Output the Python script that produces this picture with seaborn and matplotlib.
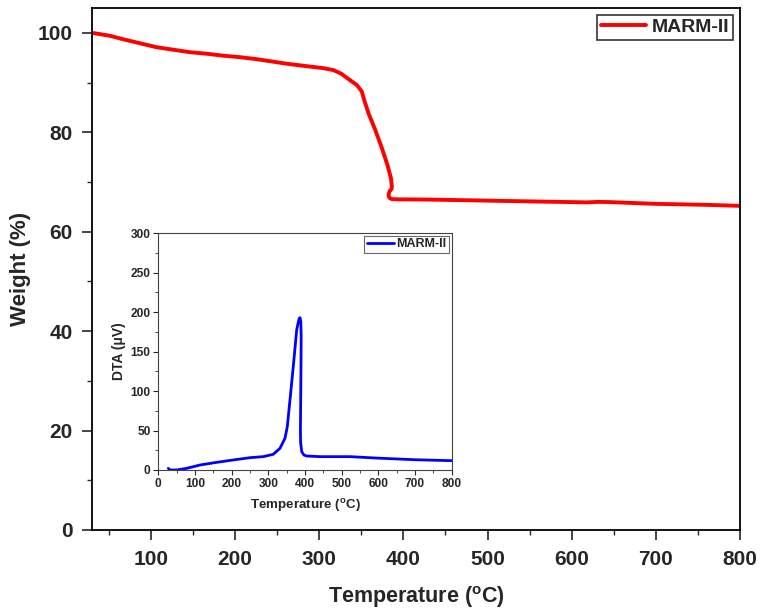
import numpy as np
import pandas as pd
import matplotlib
matplotlib.use("Agg")
import matplotlib.pyplot as plt
import seaborn as sns
from matplotlib.ticker import MultipleLocator

# TGA data (main plot)
tga_temp = [30, 51.4, 67.2, 87.0, 106.8, 126.6, 146.4, 166.2, 186, 205.8, 225.6, 245.3, 265.1,
            284.9, 304.6, 316.9, 326, 334, 344.7, 350.6, 353.4, 358.6, 366.5, 374.5, 381.1,
            385.2, 386.4, 385.5, 383.5, 382.3, 383.5, 386.4, 395, 408.1, 435, 515, 618,
            625, 632, 646, 700, 760, 800]
tga_weight = [100, 99.4, 98.7, 97.9, 97.1, 96.6, 96.1, 95.8, 95.4, 95.1, 94.7, 94.2, 93.7,
              93.3, 92.9, 92.5, 91.8, 90.8, 89.5, 88.2, 86.5, 83.8, 80.5, 76.8, 73.4,
              70.8, 68.9, 68.5, 68.1, 67.3, 66.8, 66.55, 66.5, 66.5, 66.45, 66.2, 65.9,
              65.95, 66.0, 65.95, 65.6, 65.4, 65.2]

# DTA data (inset)
dta_temp = [27.3, 31.9, 50, 77.4, 113.7, 159.2, 204.5, 250, 286.3, 313.5, 331.8, 345.4, 351.7,
            359, 368, 377.3, 382, 384.4, 386.5, 388.5, 389.5, 389, 388.2, 387.5, 388, 391,
            397, 404.6, 440.8, 522.6, 600, 700, 800]
dta_signal = [2.1, 0, 0, 2.1, 6.3, 9.7, 12.7, 15.6, 16.9, 19.9, 27.5, 40.2, 54.9,
              88.7, 131, 177.5, 188, 192.3, 193, 188, 170, 130, 88.7, 50, 35, 23.2,
              19, 17.7, 16.9, 16.9, 15, 13, 11.8]

sns.set_style("white")
plt.rcParams['font.family'] = ['Liberation Sans', 'DejaVu Sans']
plt.rcParams['font.weight'] = 'bold'
plt.rcParams['mathtext.fontset'] = 'custom'
plt.rcParams['mathtext.rm'] = 'Liberation Sans:bold'
plt.rcParams['mathtext.bf'] = 'Liberation Sans:bold'
plt.rcParams['mathtext.it'] = 'Liberation Sans:bold'

fig = plt.figure(figsize=(7.61, 6.13), dpi=100)
ax = fig.add_axes([0.1209, 0.1354, 0.8515, 0.8516])

df_tga = pd.DataFrame({"T": tga_temp, "W": tga_weight})
sns.lineplot(data=df_tga, x="T", y="W", sort=False, estimator=None, color="#ff0000",
             linewidth=2.8, ax=ax, label="MARM-II")
for ln in ax.get_lines():
    ln.set_solid_joinstyle('round')
    ln.set_solid_capstyle('round')
ax.set_xlim(30, 800)
ax.set_ylim(0, 105)
ax.xaxis.set_major_locator(MultipleLocator(100))
ax.xaxis.set_minor_locator(MultipleLocator(50))
ax.yaxis.set_major_locator(MultipleLocator(20))
ax.yaxis.set_minor_locator(MultipleLocator(10))
ax.tick_params(axis='both', which='major', direction='out', length=7.2, width=1.2,
               labelsize=15, bottom=True, left=True, top=False, right=False)
ax.tick_params(axis='x', which='major', pad=7)
ax.tick_params(axis='y', which='major', pad=6.5)
ax.tick_params(axis='both', which='minor', direction='out', length=3.6, width=1.0,
               bottom=True, left=True, top=False, right=False)
for lab in ax.get_xticklabels() + ax.get_yticklabels():
    lab.set_fontweight('bold')
ax.set_xlabel("Temperature ($^{o}$C)", fontsize=15.5, fontweight='bold', labelpad=11)
ax.set_ylabel("Weight (%)", fontsize=16, fontweight='bold', labelpad=5)
for s in ax.spines.values():
    s.set_linewidth(1.3)
    s.set_color('black')
leg = ax.legend(loc='upper right', fontsize=14, frameon=True, fancybox=False,
                edgecolor='black', handlelength=2.3, borderpad=0.2, handletextpad=0.3,
                borderaxespad=0.35)
leg.get_frame().set_linewidth(1.2)
for t in leg.get_texts():
    t.set_fontweight('bold')

# inset
axi = fig.add_axes([0.2080, 0.2333, 0.3856, 0.3862])
df_dta = pd.DataFrame({"T": dta_temp, "V": dta_signal})
sns.lineplot(data=df_dta, x="T", y="V", sort=False, estimator=None, color="#0000ff",
             linewidth=2.0, ax=axi, label="MARM-II")
for ln in axi.get_lines():
    ln.set_solid_joinstyle('round')
    ln.set_solid_capstyle('round')
axi.set_xlim(0, 800)
axi.set_ylim(0, 300)
axi.xaxis.set_major_locator(MultipleLocator(100))
axi.xaxis.set_minor_locator(MultipleLocator(50))
axi.yaxis.set_major_locator(MultipleLocator(50))
axi.yaxis.set_minor_locator(MultipleLocator(25))
axi.tick_params(axis='both', which='major', direction='out', length=3.5, width=0.8,
                labelsize=8.6, bottom=True, left=True, top=False, right=False, pad=2)
axi.tick_params(axis='both', which='minor', direction='out', length=2, width=0.6,
                bottom=True, left=True, top=False, right=False)
for lab in axi.get_xticklabels() + axi.get_yticklabels():
    lab.set_fontweight('bold')
axi.set_xlabel("Temperature ($^{o}$C)", fontsize=9.6, fontweight='bold', labelpad=5)
axi.set_ylabel("DTA (\u03bcV)", fontsize=10, fontweight='bold', labelpad=3)
for s in axi.spines.values():
    s.set_linewidth(0.8)
    s.set_color('#444444')
legi = axi.legend(loc='upper right', fontsize=9, frameon=True, fancybox=False,
                  edgecolor='#444444', handlelength=2.2, borderpad=0.2, handletextpad=0.2,
                  borderaxespad=0.2)
legi.get_frame().set_linewidth(0.8)
for t in legi.get_texts():
    t.set_fontweight('bold')

fig.savefig("out.png", dpi=100)
